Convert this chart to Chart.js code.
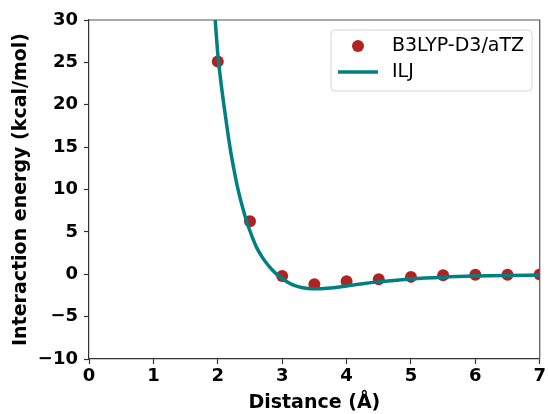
<!DOCTYPE html>
<html>
<head>
<meta charset="utf-8">
<script src="https://cdn.jsdelivr.net/npm/chart.js@4"></script>
<style>
  html, body { margin: 0; padding: 0; background: #ffffff; }
  #wrap { width: 548px; height: 414px; position: relative; }
</style>
</head>
<body>
<div id="wrap"><canvas id="c" width="548" height="414"></canvas></div>
<script>
// Reference interaction energies (kcal/mol) at each separation (Å)
const refDistances = [2.0, 2.5, 3.0, 3.5, 4.0, 4.5, 5.0, 5.5, 6.0, 6.5, 7.0];
const refEnergies  = [25.1, 6.25, -0.2, -1.18, -0.83, -0.6, -0.31, -0.12, -0.06, -0.05, -0.04];

// ILJ potential curve samples
const iljDistances = [1.96, 2.0, 2.05, 2.1, 2.15, 2.2, 2.25, 2.3, 2.35, 2.4, 2.45, 2.5, 2.55, 2.6, 2.7, 2.8, 2.9, 3.0, 3.1, 3.2, 3.3, 3.4, 3.5, 3.6, 3.8, 4.0, 4.25, 4.5, 5.0, 5.5, 6.0, 6.5, 7.0];
const iljEnergies  = [30.0, 26.0, 22.6, 19.7, 17.0, 14.5, 12.4, 10.5, 8.9, 7.5, 6.2, 5.1, 4.1, 3.2, 1.9, 0.9, 0.1, -0.5, -1.0, -1.35, -1.57, -1.68, -1.72, -1.7, -1.58, -1.38, -1.12, -0.9, -0.55, -0.34, -0.22, -0.15, -0.1];

// Axis ticks
const xTicks = [0, 1, 2, 3, 4, 5, 6, 7];
const yTicks = [-10, -5, 0, 5, 10, 15, 20, 25, 30];

const seriesNames = ['B3LYP-D3/aTZ', 'ILJ'];
const panelLabel = '(c)';

const RED = '#b22222';
const TEAL = '#008080';
const AXIS = '#333333';
const FONT = "'DejaVu Sans', sans-serif";

const toXY = (xs, ys) => xs.map((x, i) => ({ x: x, y: ys[i] }));
const minusSign = v => String(v).replace('-', '\u2212');

// Frame on top/right, panel label and in-plot legend
const extras = {
  id: 'extras',
  afterDraw(chart) {
    const ctx = chart.ctx;
    const a = chart.chartArea;
    ctx.save();
    ctx.strokeStyle = '#555555';
    ctx.lineWidth = 1.2;
    ctx.beginPath();
    ctx.moveTo(a.left, a.top);
    ctx.lineTo(a.right, a.top);
    ctx.lineTo(a.right, a.bottom);
    ctx.stroke();

    // panel label, mostly above the page edge
    ctx.fillStyle = '#000';
    ctx.font = 'bold 18px ' + FONT;
    ctx.textAlign = 'center';
    ctx.textBaseline = 'bottom';
    ctx.fillText(panelLabel, 281, 2);

    // legend box
    const bx = 331, by = 30, bw = 201, bh = 61, r = 4;
    ctx.beginPath();
    ctx.moveTo(bx + r, by);
    ctx.arcTo(bx + bw, by, bx + bw, by + bh, r);
    ctx.arcTo(bx + bw, by + bh, bx, by + bh, r);
    ctx.arcTo(bx, by + bh, bx, by, r);
    ctx.arcTo(bx, by, bx + bw, by, r);
    ctx.closePath();
    ctx.fillStyle = 'rgba(255,255,255,0.8)';
    ctx.fill();
    ctx.strokeStyle = '#d6d6d6';
    ctx.lineWidth = 1;
    ctx.stroke();

    const ds = chart.data.datasets;
    const pts = ds.find(d => d.type === 'scatter');
    const crv = ds.find(d => d.type === 'line');
    // marker entry
    ctx.fillStyle = pts.backgroundColor;
    ctx.beginPath();
    ctx.arc(358, 46, 6, 0, Math.PI * 2);
    ctx.fill();
    // line entry
    ctx.strokeStyle = crv.borderColor;
    ctx.lineWidth = crv.borderWidth;
    ctx.beginPath();
    ctx.moveTo(338, 72);
    ctx.lineTo(378, 72);
    ctx.stroke();

    ctx.fillStyle = '#000';
    ctx.font = '19px ' + FONT;
    ctx.textAlign = 'left';
    ctx.textBaseline = 'middle';
    ctx.fillText(pts.label, 392, 46);
    ctx.fillText(crv.label, 392, 72);
    ctx.restore();
  }
};

new Chart(document.getElementById('c'), {
  data: {
    datasets: [
      {
        type: 'scatter',
        label: seriesNames[0],
        data: toXY(refDistances, refEnergies),
        backgroundColor: RED,
        borderColor: RED,
        borderWidth: 0,
        pointRadius: 6,
        order: 1
      },
      {
        type: 'line',
        label: seriesNames[1],
        data: toXY(iljDistances, iljEnergies),
        borderColor: TEAL,
        backgroundColor: TEAL,
        borderWidth: 3.5,
        pointRadius: 0,
        cubicInterpolationMode: 'monotone',
        fill: false,
        order: 0
      }
    ]
  },
  options: {
    responsive: false,
    animation: false,
    devicePixelRatio: 1,
    layout: { padding: { top: 20, right: 6, left: 0, bottom: 0 } },
    plugins: {
      legend: { display: false },
      tooltip: { enabled: false }
    },
    scales: {
      x: {
        type: 'linear',
        min: xTicks[0],
        max: xTicks[xTicks.length - 1],
        afterBuildTicks: s => { s.ticks = xTicks.map(v => ({ value: v })); },
        afterFit: s => { s.height = 55; },
        grid: { drawOnChartArea: false, drawTicks: true, tickLength: 5, tickColor: AXIS, tickWidth: 1.2 },
        border: { display: true, color: AXIS, width: 1.2 },
        ticks: { color: '#000', padding: 2, font: { family: FONT, size: 18, weight: 'bold' }, callback: v => minusSign(v) },
        title: { display: true, text: 'Distance (Å)', color: '#000', padding: { top: 0, bottom: 0 }, font: { family: FONT, size: 19, weight: 'bold' } }
      },
      y: {
        type: 'linear',
        min: yTicks[0],
        max: yTicks[yTicks.length - 1],
        afterBuildTicks: s => { s.ticks = yTicks.map(v => ({ value: v })); },
        afterFit: s => { s.width = 89; },
        grid: { drawOnChartArea: false, drawTicks: true, tickLength: 5, tickColor: AXIS, tickWidth: 1.2 },
        border: { display: true, color: AXIS, width: 1.2 },
        ticks: { color: '#000', padding: 6, font: { family: FONT, size: 18, weight: 'bold' }, callback: v => minusSign(v) },
        title: { display: true, text: 'Interaction energy (kcal/mol)', color: '#000', padding: { top: 10, bottom: 0 }, font: { family: FONT, size: 19, weight: 'bold' } }
      }
    }
  },
  plugins: [extras]
});
</script>
</body>
</html>
